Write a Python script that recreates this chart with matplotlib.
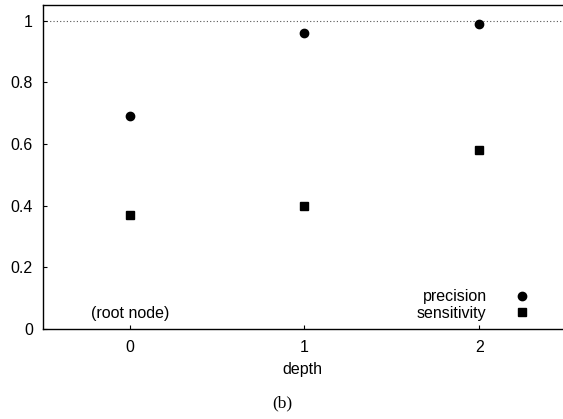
import matplotlib
matplotlib.use("Agg")
import matplotlib.pyplot as plt

depth = [0, 1, 2]
precision = [0.69, 0.96, 0.99]
sensitivity = [0.37, 0.40, 0.58]
xticks = [0, 1, 2]
yticks = [0, 0.2, 0.4, 0.6, 0.8, 1]
ytick_labels = ["0", "0.2", "0.4", "0.6", "0.8", "1"]

FS = 11.5
plt.rcParams['font.family'] = ['Liberation Sans', 'DejaVu Sans']
fig = plt.figure(figsize=(5.63, 4.19), dpi=100)
ax = fig.add_axes([42.5/563, 1-328.7/419, 1-42.5/563, (328.7-5)/419])

ax.axhline(1.0, color='#555555', linestyle=(0, (1, 2)), linewidth=0.8, zorder=1)
ax.plot(depth, precision, linestyle='none', marker='o', markersize=6.0, color='black', label='precision')
ax.plot(depth, sensitivity, linestyle='none', marker='s', markersize=5.5, color='black', label='sensitivity')

ax.set_xlim(-0.5, 2.48)
ax.set_ylim(0, 1.051)
ax.set_xticks(xticks)
ax.set_xticklabels([str(v) for v in xticks])
ax.set_yticks(yticks)
ax.set_yticklabels(ytick_labels)
ax.tick_params(direction='in', length=3, width=0.8, labelsize=FS, colors='black')
ax.tick_params(axis='x', pad=8)
ax.tick_params(axis='y', pad=7)
ax.spines['right'].set_visible(False)
for s in ['left', 'bottom', 'top']:
    ax.spines[s].set_linewidth(1.0)

ax.set_xlabel('depth', fontsize=FS, labelpad=5)
ax.text(0, 0.048, '(root node)', ha='center', va='center', fontsize=FS)

leg = ax.legend(loc='lower right', bbox_to_anchor=(0.965, -0.011), frameon=False,
                markerfirst=False, fontsize=FS, handlelength=1.5, handletextpad=1.44,
                labelspacing=0.1, borderpad=0.2)

fig.text(282/563, 1-403/419, '(b)', ha='center', va='center', fontsize=12.5,
         family=['Liberation Serif', 'DejaVu Serif'])

fig.savefig('out.png', dpi=100)
